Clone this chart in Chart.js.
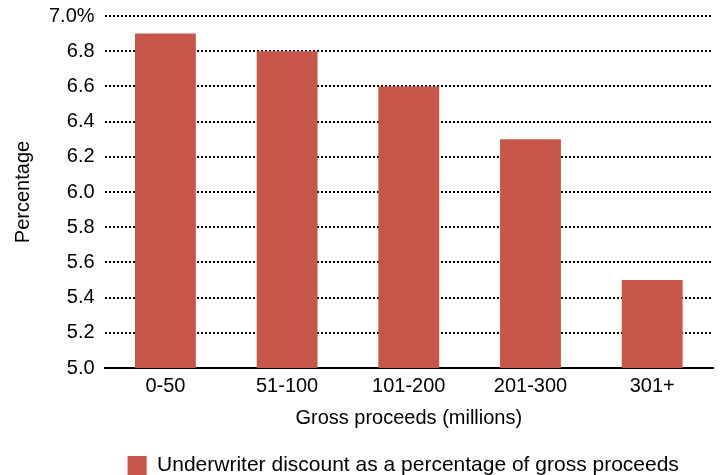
<!DOCTYPE html>
<html>
<head>
<meta charset="utf-8">
<script src="https://cdn.jsdelivr.net/npm/chart.js@4"></script>
<style>
  html, body { margin: 0; padding: 0; background: #fff; }
  #wrap { width: 723px; height: 475px; }
</style>
</head>
<body>
<div id="wrap"><canvas id="chart"></canvas></div>
<script>
const categories = ['0-50', '51-100', '101-200', '201-300', '301+'];
const discountValues = [6.9, 6.8, 6.6, 6.3, 5.5];
const seriesLabel = 'Underwriter discount as a percentage of gross proceeds';
const yMin = 5.0, yMax = 7.0, yStep = 0.2;

const barColor = '#C8554A';
const fontFamily = 'Liberation Sans, Arial, sans-serif';
const fontSize = 20;

const ctx = document.getElementById('chart').getContext('2d');
const chart = new Chart(ctx, {
    type: 'bar',
    data: {
        labels: categories,
        datasets: [{
            label: seriesLabel,
            data: discountValues,
            backgroundColor: barColor,
            borderWidth: 0,
            categoryPercentage: 1.0,
            barPercentage: 0.5
        }]
    },
    options: {
        responsive: true,
        maintainAspectRatio: false,
        animation: false,
        devicePixelRatio: 1,
        layout: { padding: { top: 16, right: 10, left: 7, bottom: -11 } },
        scales: {
            x: {
                grid: { display: false },
                border: { display: true, color: '#000', width: 2 },
                ticks: { color: '#000', font: { size: fontSize, family: fontFamily }, padding: -2 },
                title: { display: true, text: 'Gross proceeds (millions)', color: '#000', font: { size: fontSize, family: fontFamily }, padding: { top: 10, bottom: 2 } }
            },
            y: {
                min: yMin, max: yMax,
                border: { display: false, dash: [2, 2] },
                grid: { color: '#000', lineWidth: 2, drawTicks: false },
                ticks: {
                    stepSize: yStep, color: '#000', padding: 10,
                    font: { size: fontSize, family: fontFamily },
                    callback: v => Math.abs(v - yMax) < 1e-9 ? v.toFixed(1) + '%' : v.toFixed(1)
                },
                afterFit: scale => { scale.paddingTop = 0; },
                title: { display: true, text: 'Percentage', color: '#000', font: { size: fontSize, family: fontFamily }, padding: { bottom: 4 } }
            }
        },
        plugins: {
            legend: {
                position: 'bottom',
                fullSize: false,
                align: 'start',
                labels: { color: '#000', boxWidth: 19, boxHeight: 19, font: { size: 21, family: fontFamily }, padding: 23 }
            },
            tooltip: { enabled: false }
        }
    }
});
</script>
</body>
</html>
